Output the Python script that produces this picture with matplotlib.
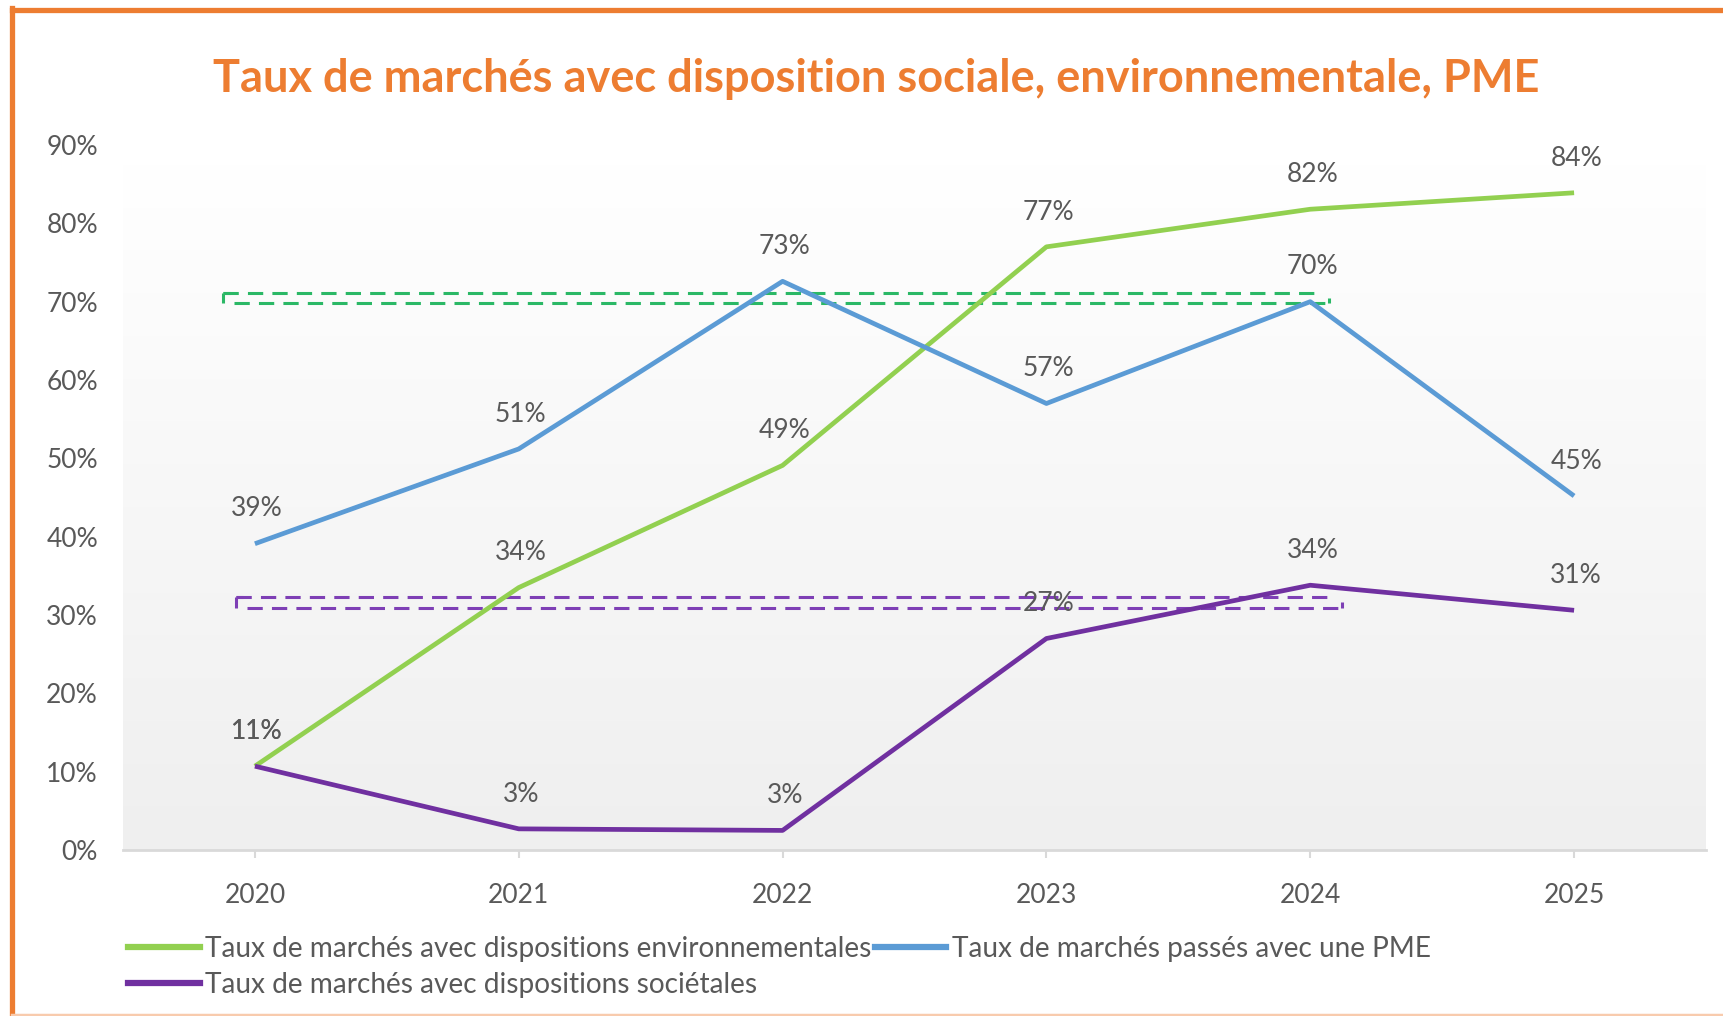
import matplotlib
matplotlib.use("Agg")
import matplotlib.pyplot as plt
import numpy as np
from matplotlib.lines import Line2D
from matplotlib.colors import LinearSegmentedColormap

years = ["2020", "2021", "2022", "2023", "2024", "2025"]
env = [0.107, 0.335, 0.491, 0.770, 0.818, 0.839]
pme = [0.391, 0.512, 0.726, 0.570, 0.700, 0.452]
soc = [0.107, 0.027, 0.025, 0.270, 0.338, 0.306]
env_labels = ["11%", "34%", "49%", "77%", "82%", "84%"]
pme_labels = ["39%", "51%", "73%", "57%", "70%", "45%"]
soc_labels = ["11%", "3%", "3%", "27%", "34%", "31%"]
yticks = [0.0, 0.1, 0.2, 0.3, 0.4, 0.5, 0.6, 0.7, 0.8, 0.9]
ytick_labels = ["0%", "10%", "20%", "30%", "40%", "50%", "60%", "70%", "80%", "90%"]
# dashed target bands (x range in category units, y range)
env_band = [(-0.12, 4.07), (0.698, 0.711)]
soc_band = [(-0.07, 4.12), (0.309, 0.323)]

title = "Taux de marchés avec disposition sociale, environnementale, PME"
names = ["Taux de marchés avec dispositions environnementales",
         "Taux de marchés passés avec une PME",
         "Taux de marchés avec dispositions sociétales"]

GREEN = "#92D050"
BLUE = "#5B9BD5"
PURPLE = "#7030A0"
ORANGE = "#ED7D31"
TXT = "#595959"

plt.rcParams['font.family'] = ['Lato', 'DejaVu Sans']

W, H = 1724, 1016
fig = plt.figure(figsize=(W / 100, H / 100), dpi=100)
fig.patch.set_facecolor("white")

left = 123 / W
right = 1706 / W
bottom = 1 - 850 / H
top = 1 - 145 / H
ax = fig.add_axes([left, bottom, right - left, top - bottom])
ax.patch.set_alpha(0)

# gradient background
cmap = LinearSegmentedColormap.from_list("g", ["#EFEFEF", "#FFFFFF"])
grad = np.linspace(0, 1, 256).reshape(-1, 1)
ax.imshow(grad, extent=[-0.5, 5.5, 0, 0.875], origin="lower", cmap=cmap,
          aspect="auto", zorder=0)
ax.set_xlim(-0.5, 5.5)
ax.set_ylim(0, 0.9)

x = np.arange(len(years))
lw = 3.4
ax.plot(x, env, color=GREEN, lw=lw, zorder=3, solid_capstyle="butt")
ax.plot(x, pme, color=BLUE, lw=lw, zorder=3, solid_capstyle="butt")
ax.plot(x, soc, color=PURPLE, lw=lw, zorder=3, solid_capstyle="butt")

dash = (0, (5.0, 3.0))
for band, col in [(env_band, "#2BB866"), (soc_band, "#7E3FB5")]:
    (x0, x1), (y0, y1) = band
    blw = 2.2
    ax.plot([x0, x1 - 0.03], [y1, y1], color=col, lw=blw, linestyle=dash, zorder=2)
    ax.plot([x0 + 0.04, x1], [y0, y0], color=col, lw=blw, linestyle=dash, zorder=2)
    ax.plot([x0, x0], [y0, y1], color=col, lw=blw, zorder=2, solid_capstyle="butt")
    ax.plot([x0, x0 + 0.025], [y1, y1], color=col, lw=blw, zorder=2, solid_capstyle="butt")
    ax.plot([x1, x1], [y0, (y0 + y1) / 2], color=col, lw=blw, zorder=2, solid_capstyle="butt")

for vals, labs in [(env, env_labels), (pme, pme_labels), (soc, soc_labels)]:
    for xi, v, lab in zip(x, vals, labs):
        ax.annotate(lab, (xi, v), xytext=(1.5, 25), textcoords="offset points",
                    ha="center", va="center", fontsize=19, color=TXT, zorder=5)

for s in ["top", "right", "left"]:
    ax.spines[s].set_visible(False)
ax.spines["bottom"].set_color("#D9D9D9")
ax.spines["bottom"].set_linewidth(2)
ax.set_xticks(x)
ax.set_xticklabels(years)
ax.set_yticks(yticks)
ax.set_yticklabels(ytick_labels)
ax.tick_params(axis="x", length=6, width=1.5, color="#D9D9D9", pad=18,
               labelsize=19, labelcolor=TXT)
ax.tick_params(axis="y", length=0, pad=18, labelsize=19, labelcolor=TXT)

fig.text(876 / W, 1 - 79 / H, title, ha="center", va="center",
         fontsize=32.5, fontweight="bold", color=ORANGE)

handles = [Line2D([], [], color=GREEN, lw=4.5),
           Line2D([], [], color=PURPLE, lw=4.5),
           Line2D([], [], color=BLUE, lw=4.5)]
labels = [names[0], names[2], names[1]]
leg = fig.legend(handles, labels, loc="upper left",
                 bbox_to_anchor=(128 / W, 1 - 936 / H), ncol=2, frameon=False,
                 fontsize=20.2, handlelength=2.55, handletextpad=0.2,
                 columnspacing=0.12, labelspacing=0.36, borderpad=0,
                 borderaxespad=0)
for t in leg.get_texts():
    t.set_color(TXT)

# orange frame
def fx(px):
    return px / W

def fy(py):
    return 1 - py / H

fig.add_artist(Line2D([fx(12), fx(1724)], [fy(10), fy(10)], color=ORANGE,
                      lw=3.8, transform=fig.transFigure))
fig.add_artist(Line2D([fx(12), fx(12)], [fy(8), fy(1016)], color=ORANGE,
                      lw=3.8, transform=fig.transFigure))
fig.add_artist(Line2D([fx(12), fx(1724)], [fy(1015), fy(1015)], color="#F8CBAD",
                      lw=2.5, transform=fig.transFigure))

fig.savefig("out.png", dpi=100)
